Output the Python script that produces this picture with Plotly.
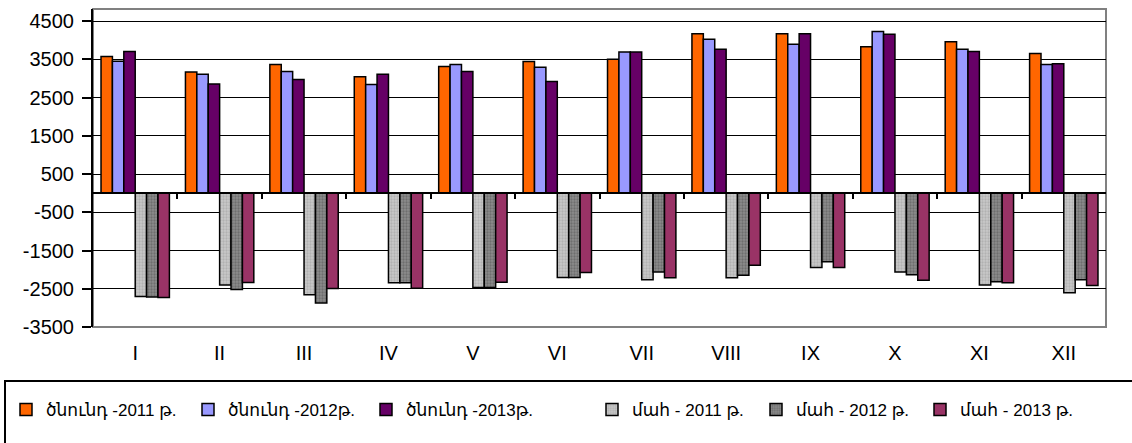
import plotly.graph_objects as go

months = ["I", "II", "III", "IV", "V", "VI", "VII", "VIII", "IX", "X", "XI", "XII"]

birth_2011 = [3570, 3170, 3360, 3040, 3310, 3440, 3500, 4165, 4165, 3825, 3960, 3650]
birth_2012 = [3450, 3110, 3180, 2840, 3360, 3290, 3690, 4025, 3890, 4225, 3760, 3360]
birth_2013 = [3700, 2850, 2970, 3110, 3180, 2920, 3690, 3760, 4165, 4155, 3700, 3380]
death_2011 = [-2705, -2405, -2660, -2340, -2470, -2205, -2265, -2215, -1945, -2065, -2405, -2605]
death_2012 = [-2715, -2520, -2875, -2340, -2470, -2205, -2060, -2150, -1795, -2135, -2320, -2265]
death_2013 = [-2730, -2335, -2495, -2485, -2330, -2075, -2215, -1885, -1945, -2275, -2345, -2415]

names = ["ծնունդ -2011 թ.", "ծնունդ -2012թ.", "ծնունդ -2013թ.",
         "մահ - 2011 թ.", "մահ - 2012 թ.", "մահ - 2013 թ."]
series = [birth_2011, birth_2012, birth_2013, death_2011, death_2012, death_2013]
colors = ["#FF6600", "#9999FF", "#660066", "#C8C8C8", "#8C8C8C", "#993366"]
patterns = [None, None, None, ("#9A9A9A", 3), ("#505050", 3), None]

y_ticks = [-3500, -2500, -1500, -500, 500, 1500, 2500, 3500, 4500]
y_min, y_max = -3500, 4814

FONT = "Arial, 'Liberation Sans', 'DejaVu Sans', sans-serif"
W, H = 1132, 443
ML, MR, MT, MB = 93, 26, 9, 116
legend_px = [6, 188, 366, 592, 756, 920]   # left positions of the legend entries (px)

fig = go.Figure()
legend_ids = ["legend"] + [f"legend{i}" for i in range(2, 7)]
for name, vals, col, pat, lid in zip(names, series, colors, patterns, legend_ids):
    marker = dict(color=col, line=dict(color="black", width=1.5))
    if pat is not None:
        marker["pattern"] = dict(shape=".", fgcolor=pat[0], size=pat[1],
                                 solidity=0.45, fillmode="overlay")
    fig.add_trace(go.Bar(x=months, y=vals, name=name, marker=marker, legend=lid))

pw = W - ML - MR
ph = H - MT - MB

def px_x(p):
    return (p - ML) / pw

def px_y(p):
    return (H - MB - p) / ph

# plot-area border (grey)
fig.add_shape(type="rect", xref="paper", yref="paper", x0=0, x1=1, y0=0, y1=1,
              line=dict(color="#808080", width=2), layer="below")
# legend box
fig.add_shape(type="rect", xref="paper", yref="paper",
              x0=px_x(5), x1=px_x(1140), y0=px_y(450), y1=px_y(381),
              line=dict(color="black", width=2))

zero_pos = (0 - y_min) / (y_max - y_min)

legend_common = dict(orientation="h", xref="container", yref="container",
                     xanchor="left", y=1 - 392 / H, yanchor="top",
                     font=dict(size=17, family=FONT, color="black"),
                     itemwidth=30, bgcolor="rgba(0,0,0,0)", borderwidth=0)
legends = {}
for lid, lx in zip(legend_ids, legend_px):
    legends[lid] = dict(legend_common, x=lx / W)

fig.update_layout(
    width=W, height=H,
    margin=dict(l=ML, r=MR, t=MT, b=MB, autoexpand=False),
    paper_bgcolor="white", plot_bgcolor="white",
    barmode="group", bargap=0.19, bargroupgap=0.0,
    font=dict(family=FONT, color="black"),
    showlegend=True,
    xaxis=dict(type="category", categoryorder="array", categoryarray=months,
               showline=False, showgrid=False, ticks="", ticklabelstandoff=12,
               tickfont=dict(size=20, family=FONT), range=[-0.5, 11.5]),
    xaxis2=dict(overlaying="x", anchor="free", position=zero_pos, range=[0, 12],
                showline=True, linecolor="black", linewidth=2, ticks="outside",
                ticklen=5, tickwidth=1.5, tickcolor="black",
                tickvals=list(range(1, 12)), showticklabels=False, showgrid=False,
                zeroline=False, side="bottom"),
    yaxis=dict(range=[y_min, y_max], tickvals=y_ticks,
               ticktext=[str(v) for v in y_ticks],
               showgrid=True, gridcolor="black", gridwidth=1.3, zeroline=False,
               showline=True, linecolor="black", linewidth=2,
               ticks="outside", ticklen=9, tickwidth=1.5, tickcolor="black",
               ticklabelstandoff=4, tickfont=dict(size=20, family=FONT)),
    **legends,
)
# invisible trace to activate xaxis2
fig.add_trace(go.Scatter(x=[0, 12], y=[0, 0], xaxis="x2", mode="lines",
                         line=dict(width=0), showlegend=False, hoverinfo="skip"))

fig.write_html("out.html", config={"displayModeBar": False},
               post_script="document.body.style.margin='0px';")
